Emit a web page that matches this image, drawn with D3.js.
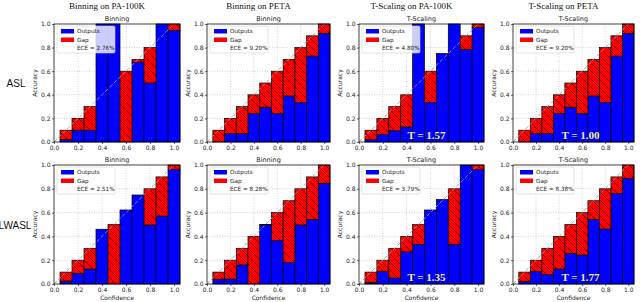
<!DOCTYPE html>
<html>
<head>
<meta charset="utf-8">
<script src="https://cdn.jsdelivr.net/npm/d3@7"></script>
<style>
  body { margin: 0; background: #fff; }
  svg { display: block; }
</style>
</head>
<body>
<div id="drawing"></div>
<script>
// Figure size
const svgWidth = 640;
const svgHeight = 302;

// Data
const rowLabels = ["ASL", "LWASL"];
const colTitles = ["Binning on PA-100K", "Binning on PETA", "T-Scaling on PA-100K", "T-Scaling on PETA"];
const methodNames = ["Binning", "Binning", "T-Scaling", "T-Scaling"];
const binCenters = [0.1, 0.2, 0.3, 0.4, 0.5, 0.6, 0.7, 0.8, 0.9, 1.0];
const axisTicks = [0.0, 0.2, 0.4, 0.6, 0.8, 1.0];

// accuracy per bin (blue "Outputs" bars)
const aslBinningPA = [0.02, 0.10, 0.10, 1.00, 1.00, 0.00, 0.677, 0.50, 1.00, 0.945];
const aslBinningPETA = [0.00, 0.07, 0.07, 0.24, 0.295, 0.24, 0.39, 0.335, 0.728, 0.92];
const aslTScalingPA = [0.02, 0.063, 0.095, 0.128, 1.00, 0.335, 0.75, 1.00, 0.785, 0.97];
const aslTScalingPETA = [0.00, 0.07, 0.07, 0.24, 0.295, 0.24, 0.39, 0.335, 0.728, 0.92];
const lwaslBinningPA = [0.025, 0.09, 0.126, 0.46, 0.00, 0.622, 0.748, 0.496, 0.571, 0.964];
const lwaslBinningPETA = [0.04, 0.042, 0.16, 0.00, 0.497, 0.364, 0.18, 0.496, 0.543, 0.846];
const lwaslTScalingPA = [0.014, 0.104, 0.05, 0.27, 0.333, 0.622, 0.71, 0.333, 1.00, 0.964];
const lwaslTScalingPETA = [0.02, 0.104, 0.08, 0.126, 0.258, 0.244, 0.543, 0.462, 0.762, 0.888];

const eceASL = ["2.76%", "9.20%", "4.80%", "9.20%"];
const eceLWASL = ["2.51%", "8.28%", "3.79%", "8.38%"];
const tempASL = [null, null, "1.57", "1.00"];
const tempLWASL = [null, null, "1.35", "1.77"];

const accuracies = [
  [aslBinningPA, aslBinningPETA, aslTScalingPA, aslTScalingPETA],
  [lwaslBinningPA, lwaslBinningPETA, lwaslTScalingPA, lwaslTScalingPETA]
];
const eces = [eceASL, eceLWASL];
const temps = [tempASL, tempLWASL];

// Layout (pixel boxes of each plot area)
const colLeft = [54, 207, 359, 513];
const colRight = [180, 330, 484, 634];
const rowTop = [24, 165];
const rowBottom = [142, 284];

const sans = "'DejaVu Sans', sans-serif";
const serif = "'Liberation Serif', 'DejaVu Serif', serif";

const svg = d3.select("#drawing")
  .append("svg")
  .attr("width", svgWidth)
  .attr("height", svgHeight);

// hatch pattern for the gap bars  ("\\")
const defs = svg.append("defs");
const hatch = defs.append("pattern")
  .attr("id", "hatch")
  .attr("patternUnits", "userSpaceOnUse")
  .attr("width", 8)
  .attr("height", 8);
hatch.append("rect").attr("width", 8).attr("height", 8).attr("fill", "#ff0000");
hatch.append("path")
  .attr("d", "M0,0L8,8M-2,6L2,10M6,-2L10,2")
  .attr("stroke", "#000")
  .attr("stroke-width", 0.6);

// column titles
colTitles.forEach((t, c) => {
  svg.append("text")
    .attr("x", (colLeft[c] + colRight[c]) / 2 - 10)
    .attr("y", 9)
    .attr("text-anchor", "middle")
    .style("font-family", serif)
    .style("font-size", "9px")
    .style("fill", "#111")
    .text(t);
});

// row labels
rowLabels.forEach((t, r) => {
  svg.append("text")
    .attr("x", r === 0 ? 16 : 15)
    .attr("y", (rowTop[r] + rowBottom[r]) / 2 + 4)
    .attr("text-anchor", "middle")
    .style("font-family", "'Liberation Sans', sans-serif")
    .style("font-size", "10px")
    .style("fill", "#111")
    .text(t);
});

function drawPanel(r, c) {
  const acc = accuracies[r][c];
  const x = d3.scaleLinear().domain([0, 1.05]).range([colLeft[c], colRight[c]]);
  const y = d3.scaleLinear().domain([0, 1]).range([rowBottom[r], rowTop[r]]);
  const g = svg.append("g");
  const bw = x(0.1) - x(0);

  // grid
  g.selectAll(".gx").data(axisTicks).enter().append("line")
    .attr("x1", d => x(d)).attr("x2", d => x(d))
    .attr("y1", y(0)).attr("y2", y(1))
    .attr("stroke", "#b0b0b0").attr("stroke-width", 0.6)
    .attr("stroke-dasharray", "1,1.5");
  g.selectAll(".gy").data(axisTicks).enter().append("line")
    .attr("x1", x(0)).attr("x2", x(1.05))
    .attr("y1", d => y(d)).attr("y2", d => y(d))
    .attr("stroke", "#b0b0b0").attr("stroke-width", 0.6)
    .attr("stroke-dasharray", "1,1.5");

  // outputs (blue)
  g.selectAll(".out").data(binCenters).enter().append("rect")
    .attr("x", d => x(d) - bw / 2)
    .attr("width", bw)
    .attr("y", (d, i) => y(acc[i]))
    .attr("height", (d, i) => y(0) - y(acc[i]))
    .attr("fill", "#0000ff")
    .attr("stroke", "#000").attr("stroke-width", 0.7);

  // gaps (red, hatched)
  const gaps = binCenters.map((d, i) => ({ c: d, a: acc[i] })).filter(o => o.c > o.a);
  g.selectAll(".gap").data(gaps).enter().append("rect")
    .attr("x", d => x(d.c) - bw / 2)
    .attr("width", bw)
    .attr("y", d => y(d.c))
    .attr("height", d => y(d.a) - y(d.c))
    .attr("fill", "url(#hatch)")
    .attr("stroke", "#000").attr("stroke-width", 0.7);

  // diagonal
  g.append("line")
    .attr("x1", x(0)).attr("y1", y(0))
    .attr("x2", x(1)).attr("y2", y(1))
    .attr("stroke", "#9a9a9a").attr("stroke-width", 0.9)
    .attr("stroke-dasharray", "4,2");

  // frame
  g.append("rect")
    .attr("x", colLeft[c]).attr("y", rowTop[r])
    .attr("width", colRight[c] - colLeft[c])
    .attr("height", rowBottom[r] - rowTop[r])
    .attr("fill", "none").attr("stroke", "#000").attr("stroke-width", 0.7);

  // axes
  const ax = g.append("g")
    .attr("transform", `translate(0,${rowBottom[r]})`)
    .call(d3.axisBottom(x).tickValues(axisTicks).tickFormat(d3.format(".1f")).tickSize(2).tickPadding(1.5));
  const ay = g.append("g")
    .attr("transform", `translate(${colLeft[c]},0)`)
    .call(d3.axisLeft(y).tickValues(axisTicks).tickFormat(d3.format(".1f")).tickSize(2).tickPadding(1.5));
  [ax, ay].forEach(a => {
    a.select(".domain").remove();
    a.selectAll("line").attr("stroke", "#000").attr("stroke-width", 0.6);
    a.selectAll("text")
      .style("font-family", sans)
      .style("font-size", "6px")
      .style("fill", "#222");
  });

  // axis labels
  g.append("text")
    .attr("transform", `translate(${colLeft[c] - 17},${(rowTop[r] + rowBottom[r]) / 2}) rotate(-90)`)
    .attr("text-anchor", "middle")
    .style("font-family", sans).style("font-size", "6px").style("fill", "#222")
    .text("Accuracy");
  if (r === 1) {
    g.append("text")
      .attr("x", (colLeft[c] + colRight[c]) / 2)
      .attr("y", rowBottom[r] + 16)
      .attr("text-anchor", "middle")
      .style("font-family", sans).style("font-size", "6px").style("fill", "#222")
      .text("Confidence");
  }

  // panel title
  g.append("text")
    .attr("x", (colLeft[c] + colRight[c]) / 2)
    .attr("y", rowTop[r] - 3)
    .attr("text-anchor", "middle")
    .style("font-family", sans).style("font-size", "6.5px").style("fill", "#222")
    .text(methodNames[c]);

  // legend
  const lx = colLeft[c] + 3, ly = rowTop[r] + 2;
  const lg = g.append("g");
  lg.append("rect")
    .attr("x", lx).attr("y", ly).attr("width", 58).attr("height", 27)
    .attr("rx", 1.5)
    .attr("fill", "#fff").attr("fill-opacity", 0.8)
    .attr("stroke", "#d0d0d0").attr("stroke-width", 0.6);
  lg.append("rect").attr("x", lx + 4).attr("y", ly + 3).attr("width", 13).attr("height", 4.5).attr("fill", "#0000ff");
  lg.append("rect").attr("x", lx + 4).attr("y", ly + 11.5).attr("width", 13).attr("height", 4.5).attr("fill", "#ff0000");
  const legTexts = ["Outputs", "Gap", "ECE = " + eces[r][c]];
  legTexts.forEach((t, i) => {
    lg.append("text")
      .attr("x", lx + 20).attr("y", ly + 7.2 + i * 8.5)
      .style("font-family", sans).style("font-size", "5.7px").style("fill", "#222")
      .text(t);
  });

  // temperature label
  const tv = temps[r][c];
  if (tv) {
    g.append("text")
      .attr("x", colLeft[c] + 67.5)
      .attr("y", rowBottom[r] - 3.5)
      .attr("text-anchor", "middle")
      .style("font-family", serif)
      .style("font-weight", "bold")
      .style("font-size", "11px")
      .style("fill", "#f5ec9c")
      .text("T = " + tv);
  }
}

for (let r = 0; r < 2; r++) {
  for (let c = 0; c < 4; c++) drawPanel(r, c);
}
</script>
</body>
</html>
